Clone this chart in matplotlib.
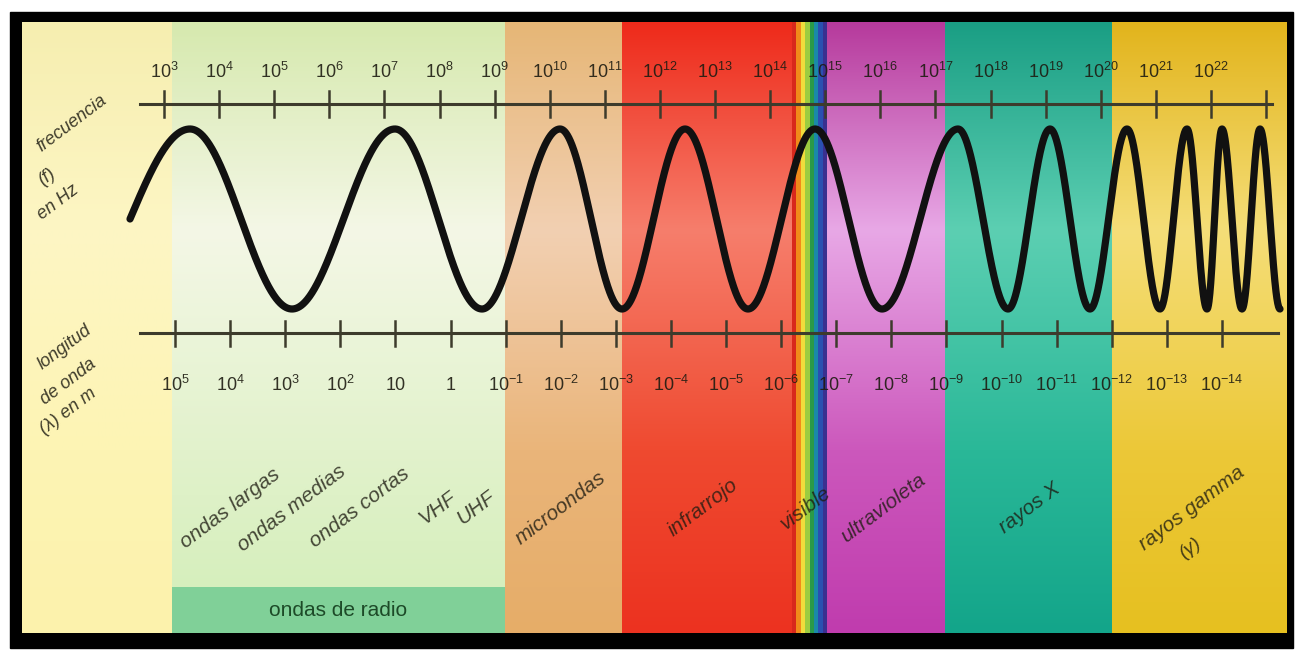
import numpy as np
import matplotlib
matplotlib.use('Agg')
import matplotlib.pyplot as plt
from matplotlib import font_manager
from matplotlib.patches import Rectangle
from matplotlib.colors import to_rgb

# ------------------------------------------------------------------ data
# frequency axis (exponents of 10, Hz)
freq_label_exponents = list(range(3, 23))      # 10^3 ... 10^22 labelled
freq_tick_exponents = list(range(3, 24))       # last tick unlabelled
# wavelength axis (exponents of 10, m)
wavelength_exponents = list(range(5, -15, -1))  # 10^5 ... 10^-14
lambda_one_metre_at = 8.2                       # freq exponent where lambda = 1 m on drawing

# spectral regions (frequency exponent limits)
region_names = ['', 'ondas de radio', 'microondas', 'infrarrojo', 'visible',
                'ultravioleta', 'rayos X', 'rayos gamma']
region_edges = [0.423, 3.145, 9.189, 11.312, 14.397, 15.033, 17.174, 20.205, 23.363]

# sub-labels and their frequency exponent (centre)
sub_labels = ['ondas largas', 'ondas medias', 'ondas cortas', 'VHF', 'UHF',
              'microondas', 'infrarrojo', 'visible', 'ultravioleta', 'rayos X',
              'rayos gamma']
sub_label_e = [4.198, 5.323, 6.557, 7.973, 8.662, 10.205, 12.782, 14.651,
               16.049, 18.717, 21.657]

# wave: start (mid-line), then alternating crests / troughs (freq exponent)
wave_nodes_e = [2.383, 3.472, 5.323, 7.192, 8.771, 10.187, 11.312, 12.456,
                13.599, 14.815, 16.031, 17.410, 18.318, 19.080, 19.806,
                20.477, 21.076, 21.566, 21.929, 22.201, 22.564, 22.891, 23.254]

# ------------------------------------------------------------------ style
avail = {f.name for f in font_manager.fontManager.ttflist}
NARROW = 'Liberation Sans Narrow' if 'Liberation Sans Narrow' in avail else 'Liberation Sans'
plt.rcParams['font.family'] = [NARROW, 'DejaVu Sans']
plt.rcParams['mathtext.fontset'] = 'custom'
plt.rcParams['mathtext.rm'] = NARROW
plt.rcParams['mathtext.it'] = NARROW + ':italic'
plt.rcParams['mathtext.bf'] = NARROW + ':bold'

# vertical colour profiles per region: (top, middle, lower, bottom)
region_colors = [
    ('#f6eeb0', '#fdf6c4', '#fdf4b4', '#fcf2ac'),   # left pale yellow
    ('#d6e9ae', '#f4f7e6', '#e2f2cc', '#d2eeb8'),   # radio
    ('#e6b676', '#f2d0b2', '#eab57a', '#e6ad68'),   # microwaves
    ('#ee2a1a', '#f67e6c', '#ef4a30', '#ec3220'),   # infrared
    None,                                           # visible (stripes)
    ('#b63a9c', '#e8a8e6', '#cc58bc', '#c03cae'),   # ultraviolet
    ('#1a9e84', '#5ccfb2', '#2ab898', '#13a58a'),   # X rays
    ('#e2b41c', '#f5de78', '#ecc838', '#e6c020'),   # gamma
]
visible_stripes = ['#d8281c', '#f08a1a', '#f0dc3c', '#9ccc40', '#2a9a48',
                   '#1a8aa8', '#2a50b0', '#3a3090']

TXT = '#1e1c12'

W, H = 1295, 652
fig = plt.figure(figsize=(W / 100, H / 100), dpi=100, facecolor='white')

# frame axes in pixels
ax0 = fig.add_axes([0, 0, 1, 1])
ax0.set_xlim(0, W)
ax0.set_ylim(H, 0)
ax0.axis('off')
ax0.add_patch(Rectangle((10, 12), 1283, 636, color='black', zorder=0))

# main axes: x = log10(frequency), y = pixels
ax = fig.add_axes([0, 0, 1, 1], facecolor='none')
XL = (0.0236, 23.526)
TOP, BOT = 22, 633

ys = np.arange(TOP, BOT + 1)
stops = [TOP, 230, 450, BOT]
for i, cols in enumerate(region_colors):
    e0, e1 = region_edges[i], region_edges[i + 1]
    if cols is None:
        n = len(visible_stripes)
        w = (e1 - e0) / n
        for j, c in enumerate(visible_stripes):
            ax.add_patch(Rectangle((e0 + j * w, TOP), w * 1.02, BOT - TOP,
                                   color=c, lw=0, zorder=1))
        continue
    rgb = np.array([to_rgb(c) for c in cols])
    img = np.stack([np.interp(ys, stops, rgb[:, k]) for k in range(3)], axis=-1)
    img = img[:, None, :]
    ax.imshow(img, extent=[e0, e1, BOT, TOP], aspect='auto', origin='upper',
              interpolation='bilinear', zorder=1)

# radio box
ax.add_patch(Rectangle((region_edges[1], 587), region_edges[2] - region_edges[1],
                       BOT - 587, color='#80d098', lw=0, zorder=2))
ax.text((region_edges[1] + region_edges[2]) / 2 + 0.0, 611, region_names[1],
        fontsize=15, color='#1d4a28', ha='center', va='center', zorder=5)

# wave
nodes_phase = [-np.pi / 2] + [k * np.pi for k in range(len(wave_nodes_e) - 1)]
xe = np.linspace(wave_nodes_e[0], wave_nodes_e[-1], 4000)
ph = np.interp(xe, wave_nodes_e, nodes_phase)
MID, AMP = 219, 90
ax.plot(xe, MID - AMP * np.cos(ph), color='#111111', lw=5.2,
        solid_capstyle='round', zorder=4)

# axes lines
AX_COL = '#3d3b2c'
ax.plot([2.564, 23.108], [104, 104], color=AX_COL, lw=2.2, zorder=3)
for e in freq_tick_exponents:
    ax.plot([e, e], [91, 117], color=AX_COL, lw=1.8, zorder=3)
for e in freq_label_exponents:
    ax.text(e, 72, '10$^{%d}$' % e, fontsize=13, color=TXT, ha='center',
            va='center', zorder=5, alpha=0.9)

ax.plot([2.564, 23.218], [333, 333], color=AX_COL, lw=2.2, zorder=3)
for k in wavelength_exponents:
    e = lambda_one_metre_at - k
    ax.plot([e, e], [321, 346], color=AX_COL, lw=1.8, zorder=3)
    if k == 0:
        lab = '1'
    elif k == 1:
        lab = '10'
    else:
        lab = '10$^{%d}$' % k
    ax.text(e, 385, lab, fontsize=13, color=TXT, ha='center', va='center',
            zorder=5, alpha=0.9)

# left axis titles
for s, (x, y) in zip(['frecuencia', '(f)', 'en Hz'],
                     [(0.78, 152), (0.80, 186), (0.78, 220)]):
    ax.text(x, y, s, fontsize=13, style='italic', color=TXT, rotation=37,
            rotation_mode='anchor', ha='left', va='baseline', zorder=5, alpha=0.85)
for s, (x, y) in zip(['longitud', 'de onda', '(λ) en m'],
                     [(0.80, 370), (0.84, 405), (0.84, 435)]):
    ax.text(x, y, s, fontsize=13, style='italic', color=TXT, rotation=37,
            rotation_mode='anchor', ha='left', va='baseline', zorder=5, alpha=0.85)

# region sub-labels
for s, e in zip(sub_labels, sub_label_e):
    ax.text(e, 508, s, fontsize=15, style='italic', color=TXT, rotation=37,
            ha='center', va='center', zorder=5, alpha=0.8)
ax.text(21.62, 548, '(γ)', fontsize=14, style='italic', color=TXT, rotation=37,
        ha='center', va='center', zorder=5, alpha=0.8)

ax.set_xlim(*XL)
ax.set_ylim(H, 0)
ax.axis('off')

fig.savefig('out.png', dpi=100, facecolor='white')
